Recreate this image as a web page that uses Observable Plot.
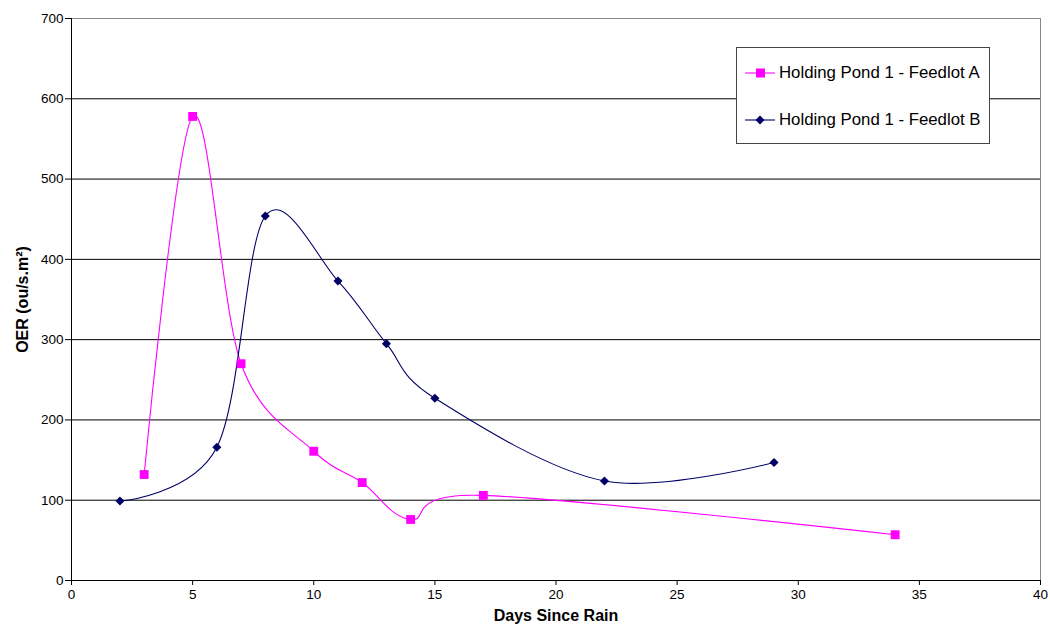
<!DOCTYPE html>
<html>
<head>
<meta charset="utf-8">
<script src="https://cdn.jsdelivr.net/npm/d3@7"></script>
<script src="https://cdn.jsdelivr.net/npm/@observablehq/plot@0.6"></script>
<style>
  body { margin: 0; background: #fff; font-family: "Liberation Sans", Arial, sans-serif; }
  #wrap { position: relative; width: 1050px; height: 630px; }
  .legend {
    position: absolute; left: 736px; top: 47px; width: 254px; height: 97px;
    box-sizing: border-box; border: 1px solid #444; background: #fff;
    font-size: 16.8px; color: #000;
  }
  .legend .row { position: absolute; left: 8px; height: 20px; display: flex; align-items: center; white-space: nowrap; }
  .legend svg { margin-right: 4px; }
</style>
</head>
<body>
<div id="wrap"></div>
<script>
// Odour emission rate measurements after rainfall, two holding ponds
const seriesNames = ["Holding Pond 1 - Feedlot A", "Holding Pond 1 - Feedlot B"];
const daysA = [3, 5, 7, 10, 12, 14, 17, 34];
const oerA  = [132, 578, 270, 161, 122, 76, 106, 57];
const daysB = [2, 6, 8, 11, 13, 15, 22, 29];
const oerB  = [99, 166, 454, 373, 295, 227, 124, 147];
const xTicks = [0, 5, 10, 15, 20, 25, 30, 35, 40];
const yTicks = [0, 100, 200, 300, 400, 500, 600, 700];

const colorA = "#ff00ff";
const colorB = "#000066";

const rowsA = daysA.map((d, i) => ({day: d, oer: oerA[i]}));
const rowsB = daysB.map((d, i) => ({day: d, oer: oerB[i]}));

const chart = Plot.plot({
  width: 1050,
  height: 630,
  marginLeft: 71,
  marginRight: 10,
  marginTop: 18,
  marginBottom: 50,
  style: {fontFamily: "'Liberation Sans', Arial, sans-serif", fontSize: "13.5px", color: "#000", background: "#fff"},
  x: {domain: [0, 40]},
  y: {domain: [0, 700]},
  marks: [
    Plot.ruleY(yTicks.filter(v => v > 0 && v < 700), {stroke: "#000", strokeWidth: 1}),
    Plot.ruleY([700], {stroke: "#888"}),
    Plot.ruleX([40], {stroke: "#888"}),
    Plot.ruleY([0], {stroke: "#000"}),
    Plot.ruleX([0], {stroke: "#000"}),
    Plot.axisX({ticks: xTicks, tickSize: 5, tickPadding: 4, label: null, stroke: "#000"}),
    Plot.axisY({ticks: yTicks, tickSize: 6, tickPadding: 2, label: null, stroke: "#000"}),
    Plot.line(rowsA, {x: "day", y: "oer", stroke: colorA, strokeWidth: 1.1, curve: "cardinal", tension: 0}),
    Plot.line(rowsB, {x: "day", y: "oer", stroke: colorB, strokeWidth: 1.1, curve: "cardinal", tension: 0}),
    Plot.dot(rowsA, {x: "day", y: "oer", symbol: "square", fill: colorA, r: 5}),
    Plot.dot(rowsB, {x: "day", y: "oer", symbol: "diamond2", fill: colorB, stroke: "none", r: 4.1}),
    Plot.text(["Days Since Rain"], {frameAnchor: "bottom", dy: 40, fontWeight: "bold", fontSize: 16}),
    Plot.text(["OER (ou/s.m²)"], {frameAnchor: "left", dx: -49, rotate: -90, textAnchor: "middle", fontWeight: "bold", fontSize: 16})
  ]
});

const wrap = document.getElementById("wrap");
wrap.appendChild(chart);

// Boxed legend in the upper right of the plot area
const legend = document.createElement("div");
legend.className = "legend";
const swatch = (color, shape) => {
  const m = shape === "square"
    ? `<rect x="11" y="5.5" width="9" height="9" fill="${color}"/>`
    : `<path d="M15 5.5 L19.5 10 L15 14.5 L10.5 10 Z" fill="${color}"/>`;
  return `<svg width="30" height="20"><line x1="0" y1="10" x2="30" y2="10" stroke="${color}" stroke-width="1.1"/>${m}</svg>`;
};
legend.innerHTML =
  `<div class="row" style="top:15px">${swatch(colorA, "square")}<span>${seriesNames[0]}</span></div>` +
  `<div class="row" style="top:62px">${swatch(colorB, "diamond")}<span>${seriesNames[1]}</span></div>`;
wrap.appendChild(legend);
</script>
</body>
</html>
